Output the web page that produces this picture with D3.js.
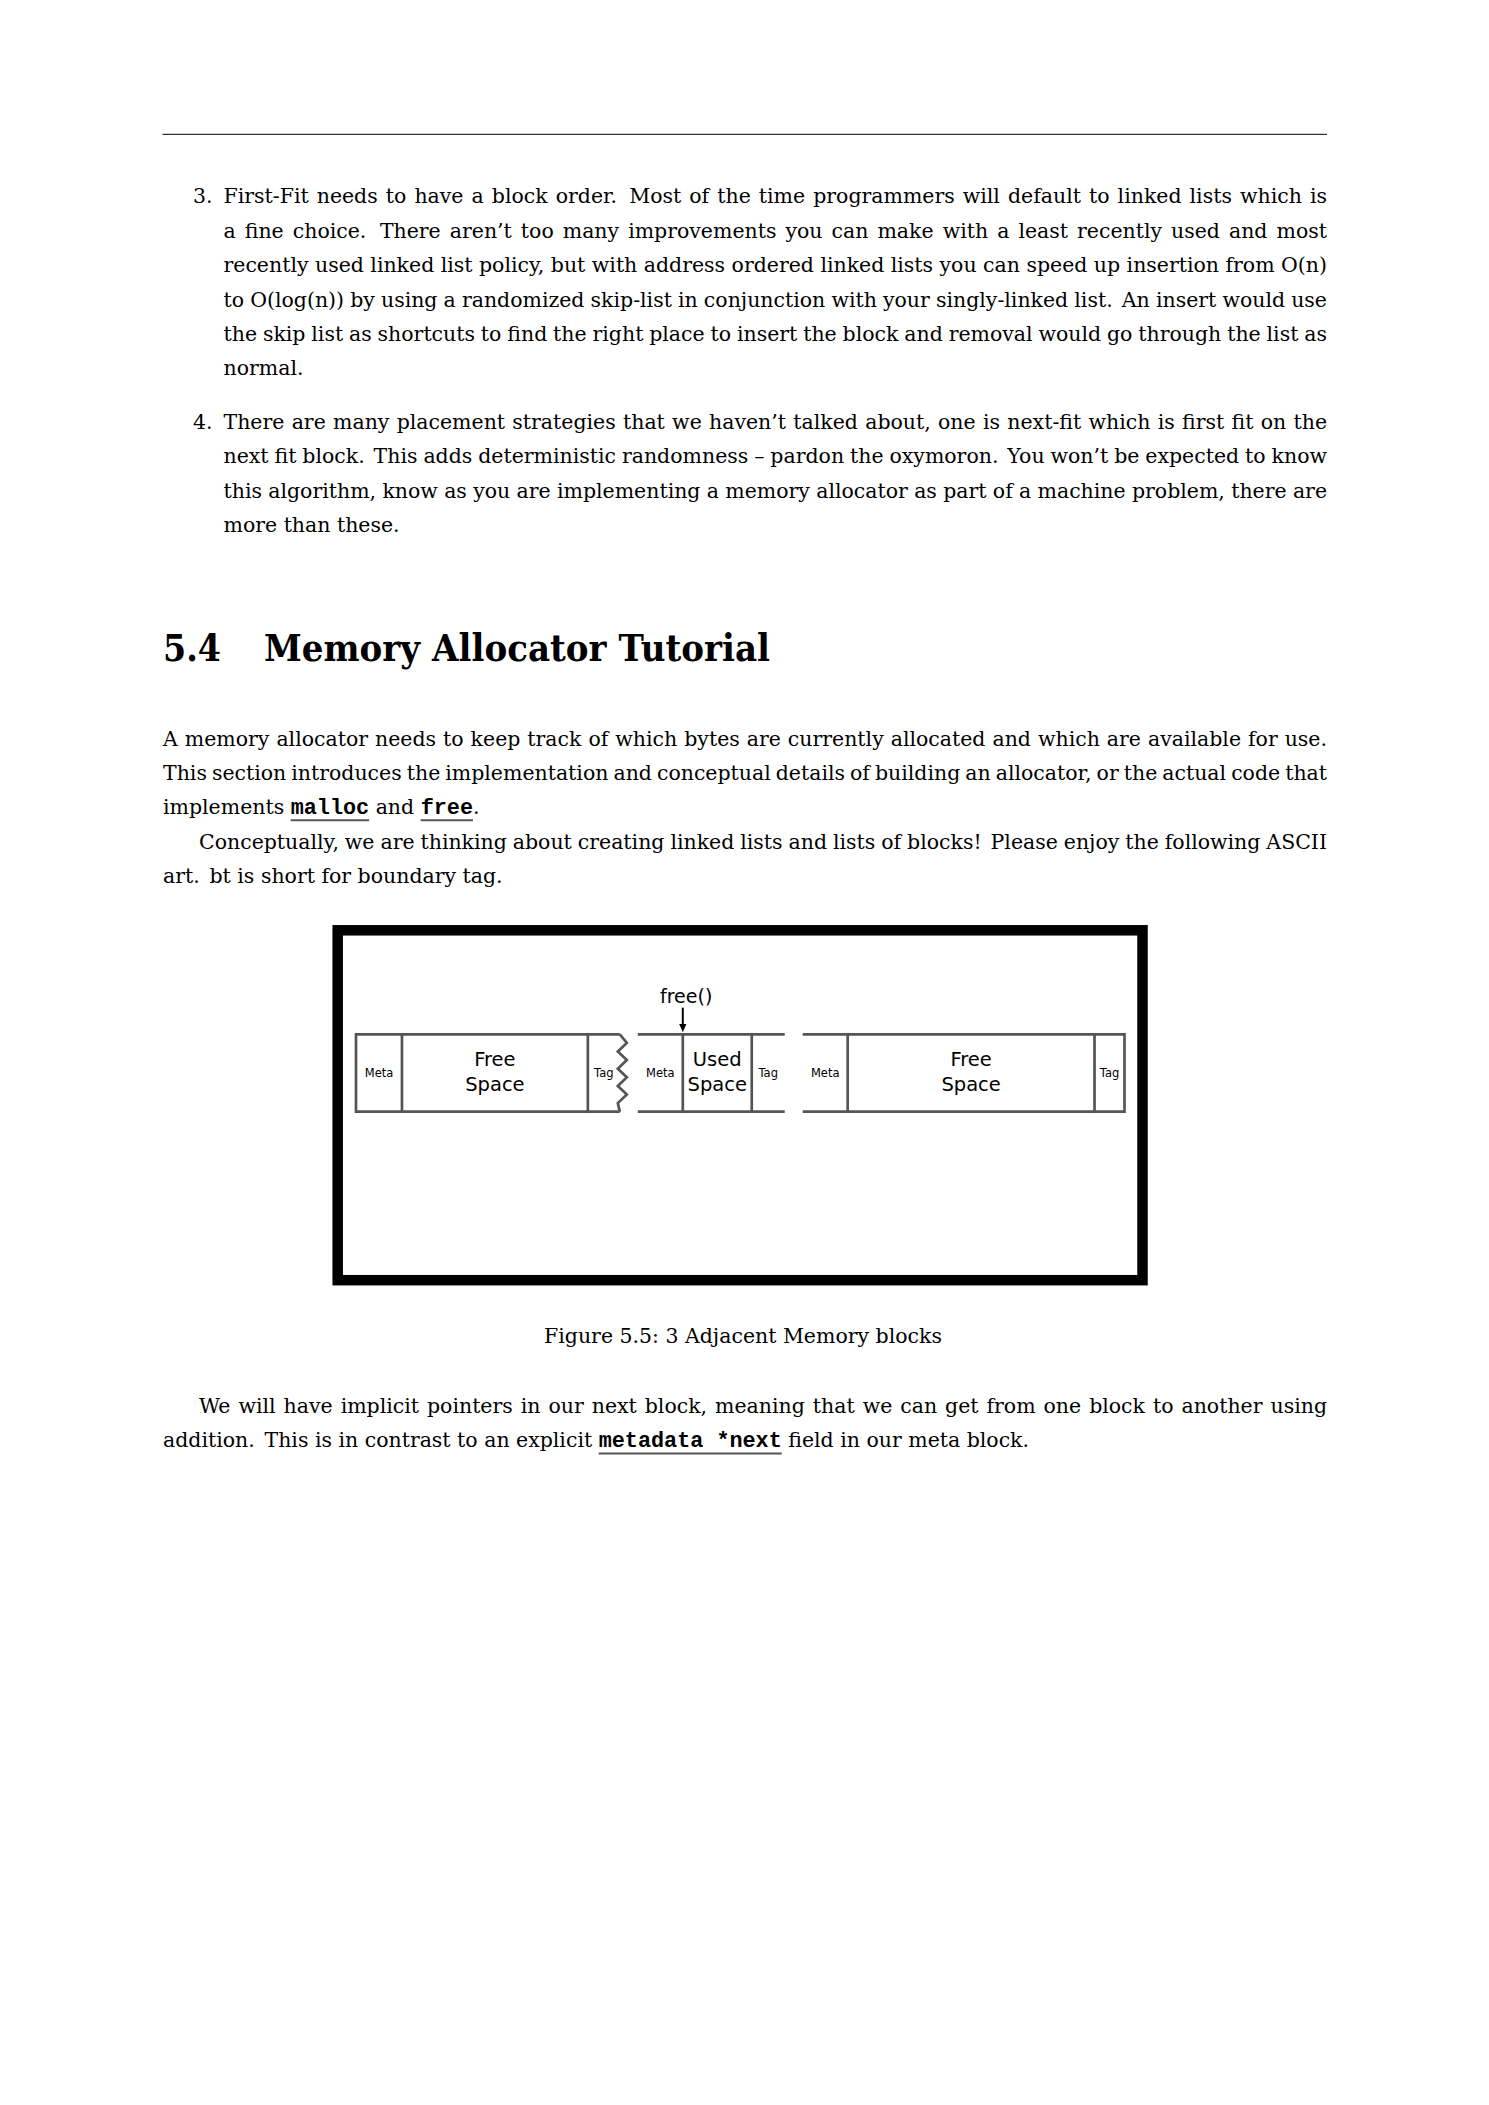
<!DOCTYPE html>
<html>
<head>
<meta charset="utf-8">
<script src="https://cdn.jsdelivr.net/npm/d3@7"></script>
<style>
  html, body { margin: 0; padding: 0; background: #fff; }
  svg { display: block; }
</style>
</head>
<body>
<script>
// ---- page text (code spans between backticks, two spaces = sentence end) ----
var item3Lines = [
  "First-Fit needs to have a block order.  Most of the time programmers will default to linked lists which is",
  "a fine choice.  There aren’t too many improvements you can make with a least recently used and most",
  "recently used linked list policy, but with address ordered linked lists you can speed up insertion from O(n)",
  "to O(log(n)) by using a randomized skip-list in conjunction with your singly-linked list.  An insert would use",
  "the skip list as shortcuts to find the right place to insert the block and removal would go through the list as",
  "normal."
];
var item4Lines = [
  "There are many placement strategies that we haven’t talked about, one is next-fit which is first fit on the",
  "next fit block.  This adds deterministic randomness – pardon the oxymoron.  You won’t be expected to know",
  "this algorithm, know as you are implementing a memory allocator as part of a machine problem, there are",
  "more than these."
];
var itemNumbers = ["3.", "4."];
var sectionNumber = "5.4";
var sectionTitle = "Memory Allocator Tutorial";
var introLines = [
  "A memory allocator needs to keep track of which bytes are currently allocated and which are available for use.",
  "This section introduces the implementation and conceptual details of building an allocator, or the actual code that",
  "implements `malloc` and `free`."
];
var conceptLines = [
  "Conceptually, we are thinking about creating linked lists and lists of blocks!  Please enjoy the following ASCII",
  "art.  bt is short for boundary tag."
];
var captionText = "Figure 5.5: 3 Adjacent Memory blocks";
var afterLines = [
  "We will have implicit pointers in our next block, meaning that we can get from one block to another using",
  "addition.  This is in contrast to an explicit `metadata *next` field in our meta block."
];

// ---- figure data: three adjacent blocks, sizes in memory units ----
var blockKinds = ["Free", "Used", "Free"];
var metaSizes = [46, 45, 45];
var payloadSizes = [186, 69, 247];
var tagSizes = [32, 33, 30];
var leftEdges = ["solid", "open", "open"];
var rightEdges = ["zigzag", "open", "solid"];
var freedBlock = 1;
var callLabel = "free()";

// ---- layout ----
var W = 1489, H = 2105;
var SERIF = "DejaVu Serif", MONO = "Liberation Mono", SANS = "DejaVu Sans";
var textLeft = 163, textRight = 1327, itemLeft = 223.5, numLeft = 193;
var indent = 36, lineStep = 34.4;
var codeSize = 21.8;
var captionWidth = 398;
var ink = "#000", gray = "#555";

var svg = d3.select("body").append("svg").attr("width", W).attr("height", H);
svg.append("rect").attr("width", W).attr("height", H).attr("fill", "#fff");

var probe = svg.append("text").attr("x", -3000).attr("y", -3000).style("white-space", "pre");
function textWidth(str, family, size, weight) {
  probe.attr("font-family", family).attr("font-size", size)
       .attr("font-weight", weight || "normal").text(str);
  return probe.node().getComputedTextLength();
}

// size the body font so its widths follow the printed page
var serifSize = 100 * captionWidth / textWidth(captionText, SERIF, 100);
var spaceWidth = textWidth("x x", SERIF, serifSize) - textWidth("xx", SERIF, serifSize);

var page = svg.append("g");

// top rule
page.append("line")
    .attr("x1", textLeft - 0.5).attr("x2", textRight)
    .attr("y1", 134.3).attr("y2", 134.3)
    .attr("stroke", "#333").attr("stroke-width", 1.3);

function tokenize(line) {
  var tokens = [], cur = null, gap = 0;
  line.split("`").forEach(function(part, i) {
    if (i % 2 == 1) {
      if (!cur) { cur = {gap: gap, pieces: []}; tokens.push(cur); }
      cur.pieces.push({t: part, code: true});
      return;
    }
    part.split(/( +)/).forEach(function(seg) {
      if (seg == "") return;
      if (seg[0] == " ") { cur = null; gap = seg.length > 1 ? 1.5 : 1; return; }
      if (!cur) { cur = {gap: gap, pieces: []}; tokens.push(cur); }
      cur.pieces.push({t: seg, code: false});
    });
  });
  return tokens;
}

function drawLine(line, x0, x1, y, justify) {
  var tokens = tokenize(line);
  var total = 0, gaps = 0;
  tokens.forEach(function(tok, i) {
    tok.pieces.forEach(function(p) {
      p.w = p.code ? textWidth(p.t, MONO, codeSize, "bold") : textWidth(p.t, SERIF, serifSize);
      total += p.w;
    });
    if (i > 0) gaps += tok.gap;
  });
  var unit = justify ? (x1 - x0 - total) / gaps : spaceWidth;
  var x = x0, placed = [];
  tokens.forEach(function(tok, i) {
    if (i > 0) x += unit * tok.gap;
    tok.pieces.forEach(function(p) {
      placed.push({t: p.t, code: p.code, x: x, w: p.w});
      x += p.w;
    });
  });
  var text = page.append("text").attr("y", y).attr("fill", ink).style("white-space", "pre");
  text.selectAll("tspan").data(placed).join("tspan")
      .attr("x", function(d) { return d.x; })
      .attr("font-family", function(d) { return d.code ? MONO : SERIF; })
      .attr("font-size", function(d) { return d.code ? codeSize : serifSize; })
      .attr("font-weight", function(d) { return d.code ? "bold" : "normal"; })
      .text(function(d) { return d.t; });
  page.selectAll(null).data(placed.filter(function(d) { return d.code; })).enter().append("line")
      .attr("x1", function(d) { return d.x; })
      .attr("x2", function(d) { return d.x + d.w; })
      .attr("y1", y + 6).attr("y2", y + 6)
      .attr("stroke", gray).attr("stroke-width", 2);
}

// lines of a paragraph: all justified except the last
function drawParagraph(lines, x0, firstIndent, y0) {
  lines.forEach(function(line, i) {
    drawLine(line, x0 + (i == 0 ? firstIndent : 0), textRight, y0 + i * lineStep, i < lines.length - 1);
  });
}

// enumerated items
var itemTops = [203.3, 429];
[item3Lines, item4Lines].forEach(function(lines, k) {
  page.append("text").attr("x", numLeft).attr("y", itemTops[k])
      .attr("font-family", SERIF).attr("font-size", serifSize).attr("fill", ink)
      .text(itemNumbers[k]);
  drawParagraph(lines, itemLeft, 0, itemTops[k]);
});

// section heading
var headY = 661;
page.append("text").attr("x", textLeft).attr("y", headY)
    .attr("font-family", SERIF).attr("font-weight", "bold").attr("font-size", 38)
    .attr("textLength", 58).attr("lengthAdjust", "spacingAndGlyphs")
    .attr("fill", ink).text(sectionNumber);
page.append("text").attr("x", 264).attr("y", headY)
    .attr("font-family", SERIF).attr("font-weight", "bold").attr("font-size", 38)
    .attr("textLength", 506).attr("lengthAdjust", "spacingAndGlyphs")
    .attr("fill", ink).text(sectionTitle);

// body paragraphs
var introY = 745.5;
drawParagraph(introLines, textLeft, 0, introY);
drawParagraph(conceptLines, textLeft, indent, introY + introLines.length * lineStep);

// ---- figure ----
var fig = svg.append("g");
fig.append("rect")
    .attr("x", 337.7).attr("y", 930.3)
    .attr("width", 1142.5 - 337.7).attr("height", 1280.2 - 930.3)
    .attr("fill", "#fff").attr("stroke", "#000").attr("stroke-width", 10.5);

var blockGap = 18;
var blocks = [], cursor = 0;
blockKinds.forEach(function(kind, i) {
  var b = {kind: kind, start: cursor};
  b.metaEnd = b.start + metaSizes[i];
  b.payEnd = b.metaEnd + payloadSizes[i];
  b.end = b.payEnd + tagSizes[i];
  b.left = leftEdges[i];
  b.right = rightEdges[i];
  blocks.push(b);
  cursor = b.end + blockGap;
});
var total = blocks[blocks.length - 1].end;

var x = d3.scaleLinear().domain([0, total]).range([356, 1124.5]);
var y = d3.scaleLinear().domain([0, 1]).range([1034.3, 1111.7]);

var blockG = fig.selectAll("g.block").data(blocks).join("g").attr("class", "block")
    .attr("fill", "none").attr("stroke", gray).attr("stroke-width", 2.7);

// top and bottom rails
blockG.selectAll("line.rail").data(function(d) { return [0, 1].map(function(v) { return {b: d, v: v}; }); })
    .join("line").attr("class", "rail")
    .attr("x1", function(d) { return x(d.b.start); })
    .attr("x2", function(d) { return x(d.b.end); })
    .attr("y1", function(d) { return y(d.v); })
    .attr("y2", function(d) { return y(d.v); });

// dividers and solid edges
blockG.selectAll("line.div").data(function(d) {
      var xs = [d.metaEnd, d.payEnd];
      if (d.left == "solid") xs.push(d.start);
      if (d.right == "solid") xs.push(d.end);
      return xs;
    })
    .join("line").attr("class", "div")
    .attr("x1", function(d) { return x(d); }).attr("x2", function(d) { return x(d); })
    .attr("y1", y(0) - 1.35).attr("y2", y(1) + 1.35);

// torn edge
var zigOffsets = [0, 7, -2, 7, -2, 7, -2, 7, -2, 0];
blockG.filter(function(d) { return d.right == "zigzag"; })
    .append("path")
    .attr("stroke-linejoin", "miter")
    .attr("d", function(d) {
      return d3.line()(zigOffsets.map(function(o, k) {
        return [x(d.end) + o, y(k / (zigOffsets.length - 1))];
      }));
    });

// labels
var labels = [];
blocks.forEach(function(b) {
  labels.push({t: "Meta", cx: (b.start + b.metaEnd) / 2, yy: 1076.5, size: 11.5});
  labels.push({t: b.kind, cx: (b.metaEnd + b.payEnd) / 2, yy: 1066, size: 19.5});
  labels.push({t: "Space", cx: (b.metaEnd + b.payEnd) / 2, yy: 1090.7, size: 19.5});
  labels.push({t: "Tag", cx: (b.payEnd + b.end) / 2, yy: 1076.5, size: 11.5});
});
fig.selectAll("text.lbl").data(labels).join("text").attr("class", "lbl")
    .attr("x", function(d) { return x(d.cx); })
    .attr("y", function(d) { return d.yy; })
    .attr("text-anchor", "middle")
    .attr("font-family", SANS).attr("font-size", function(d) { return d.size; })
    .attr("fill", "#000")
    .text(function(d) { return d.t; });

// free() arrow onto the used block
var ax = x(blocks[freedBlock].metaEnd);
fig.append("text").attr("x", ax + 3.4).attr("y", 1003.3)
    .attr("text-anchor", "middle").attr("font-family", SANS).attr("font-size", 19)
    .attr("fill", "#000").text(callLabel);
fig.append("line").attr("x1", ax).attr("x2", ax).attr("y1", 1007.7).attr("y2", 1025)
    .attr("stroke", "#000").attr("stroke-width", 2);
fig.append("path")
    .attr("d", d3.line()([[ax - 3.6, 1024], [ax + 3.6, 1024], [ax, 1032.3]]) + "Z")
    .attr("fill", "#000");

// caption
page.append("text").attr("x", 743).attr("y", 1343)
    .attr("text-anchor", "middle").attr("font-family", SERIF).attr("font-size", serifSize)
    .attr("fill", ink).text(captionText);

// paragraph after the figure
drawParagraph(afterLines, textLeft, indent, 1413);

probe.remove();
</script>
</body>
</html>
